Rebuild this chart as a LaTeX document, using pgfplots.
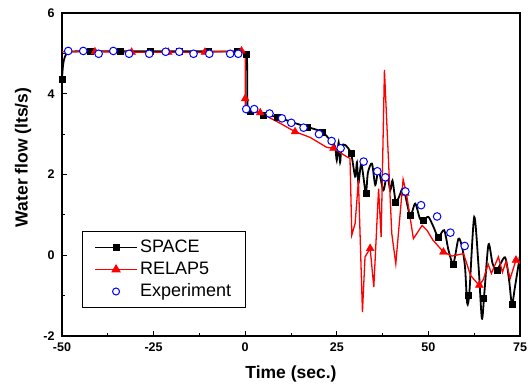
\documentclass[border=0pt]{standalone}
\usepackage{fontspec}
\setmainfont{Liberation Sans}
\usepackage{pgfplots}
\pgfplotsset{compat=1.18}
\begin{document}
\begin{tikzpicture}
\begin{axis}[
 width=458bp, height=323bp, scale only axis,
 xmin=-50, xmax=75, ymin=-2, ymax=6,
 xtick={-50,-25,0,25,50,75}, xticklabels={-50,-25,0,25,50,75},
 ytick={-2,0,2,4,6}, yticklabels={-2,0,2,4,6},
 minor x tick num=1, minor y tick num=1,
 tick align=inside, tick pos=left,
 major tick length=5bp, minor tick length=3bp,
 every tick/.style={black, line width=1bp},
 axis line style={line width=1.5bp},
 ticklabel style={font=\bfseries\fontsize{12.5bp}{14bp}\selectfont},
 xticklabel style={yshift=-3bp},
 yticklabel style={xshift=-4bp},
 xlabel={Time (sec.)}, ylabel={Water flow (lts/s)},
 label style={font=\bfseries\fontsize{17.5bp}{20bp}\selectfont},
 xlabel style={at={(axis description cs:0.5,-0.118)}, anchor=center},
 ylabel style={at={(axis description cs:-0.085,0.553)}, anchor=center},
 legend style={at={(axis description cs:0.044,0.087)}, anchor=south west,
   draw=black, line width=0.8bp, inner xsep=12bp, inner ysep=5bp,
   font=\fontsize{18bp}{21bp}\selectfont,
   nodes={text height=13bp, text depth=4bp, inner sep=2.5bp}, row sep=0bp},
 legend cell align=left,
 legend image code/.code={\draw[mark repeat=2,mark phase=2,#1] plot coordinates {(0bp,0bp) (21bp,0bp) (42bp,0bp)};},
]
% SPACE line
\addplot[black, line width=1.8bp, smooth, tension=0.5, forget plot] coordinates {
(-50,4.37) (-49.7,4.72) (-49.2,4.92) (-48.3,5.02) (-46,5.05) (-30,5.05) (-15,5.05) (-0.3,5.04) (0.5,4.98)};
\addplot[black, line width=1.8bp, forget plot] coordinates {(0.5,4.98) (0.6,3.7)};
\addplot[black, line width=1.8bp, smooth, tension=0.45, forget plot] coordinates {
(0.6,3.7) (1.5,3.6) (3,3.55) (5.0,3.47) (8.6,3.43) (12.3,3.31) (16.8,3.18) (20.9,3.06)
(23.2,2.85) (24.5,2.7) (25.0,2.35) (25.5,2.8) (25.9,2.3) (26.3,2.7) (27.3,2.73) (28.9,2.52)
(30.0,1.95) (30.5,2.3) (30.9,1.78) (31.7,2.27) (32.9,1.55) (33.5,2.05) (34.6,2.27) (35.5,1.74)
(36.4,2.11) (37.7,1.61) (38.7,1.99) (39.6,1.61) (40.2,1.85) (41.1,1.32) (42.0,1.45) (43.2,1.65)
(45.0,0.99) (46.4,1.28) (47.7,0.9) (48.7,0.87) (50.0,0.95) (51.4,0.70) (52.7,0.45) (54.3,0.62)
(55.5,0.12) (56.8,-0.21) (58.2,0.41) (59.2,0.2) (60.0,-0.3) (60.6,-1.2) (61.2,-0.9) (62.5,0.95)
(63.7,-0.29) (64.6,-1.57) (65.3,-0.9) (66.4,0.27) (67.5,-0.2) (68.7,-0.37) (70.9,-0.05)
(72.0,-0.6) (72.8,-1.22) (73.6,-0.8) (75,0.0)};
\addplot[only marks, mark=square*, mark size=3bp, black, forget plot] coordinates {
(-50,4.37) (-42.3,5.05) (-34,5.05) (-26,5.05) (-18,5.05) (-10,5.05) (-2.1,5.05) (0.2,4.98)
(1.5,3.57) (5,3.47) (8.6,3.43) (16.8,3.18) (20.9,3.06) (29,2.52) (32.9,1.53) (41,1.32)
(45,0.99) (48.6,0.87) (52.8,0.45) (56.8,-0.21) (60.9,-0.99) (65,-1.07) (68.7,-0.37) (73,-1.2)};
% RELAP5 line
\addplot[red, line width=1.3bp, forget plot] coordinates {
(-50,5.04) (-41,5.04) (-31,5.03) (-21,5.03) (-11,5.03) (-1,5.06) (-0.3,5.05) (0,4.95) (0,3.6)
(4.1,3.53) (9.5,3.27) (13.6,3.06) (17.7,2.92) (22.3,2.67) (24.1,2.65) (27.7,2.44) (28.6,2.40)
(29.1,0.50) (30.0,0.79) (30.9,1.86) (32.0,-1.41) (32.7,-0.04) (34.1,0.17) (35.1,-0.79)
(36.4,1.65) (37.1,0.45) (38.0,4.59) (40.0,0.54) (41.1,-0.21) (43.1,1.88) (44.0,1.53)
(45.9,0.41) (48.3,0.74) (49.6,0.62) (51.2,0.38) (54.1,0.08) (56.4,-0.02) (59.6,0.04)
(61.5,-0.5) (63.9,-0.75) (65,-0.6) (66.3,-0.22) (67.2,-0.45) (69.1,-0.04) (70.2,-0.42)
(71.2,-0.15) (72.3,-0.58) (73.9,-0.12) (75,-0.2)};
\addplot[only marks, mark=triangle*, mark size=4.5bp, red, forget plot] coordinates {
(-41,5.04) (-31,5.03) (-21,5.03) (-11,5.03) (-1,5.06) (0,3.88) (4.1,3.53) (13.6,3.06)
(24.1,2.65) (34.1,0.17) (43.7,1.53) (54.1,0.08) (63.9,-0.74) (73.9,-0.12)};
% Experiment
\addplot[only marks, mark=*, mark size=3.8bp, blue, mark options={fill=white, line width=1bp}, forget plot] coordinates {
(-48.3,5.06) (-44.2,5.06) (-40.0,4.99) (-36.0,5.06) (-31.7,4.99) (-26.2,4.99) (-21.7,5.04)
(-18.0,5.04) (-14.1,4.99) (-9.8,4.99) (-4.1,4.99) (-1.9,4.99) (0.27,3.62) (2.46,3.62)
(6.64,3.51) (10.03,3.39) (12.57,3.28) (15.93,3.16) (20.14,3.00) (23.58,2.83) (26.04,2.65)
(32.32,2.32) (36.07,2.08) (38.25,1.93) (43.72,1.58) (48.0,1.24) (52.38,0.96) (56.0,0.56) (59.9,0.23)};
\addlegendimage{black, line width=1bp, mark=square*, mark size=3bp}
\addlegendentry{SPACE}
\addlegendimage{red, line width=1bp, mark=triangle*, mark size=4.5bp}
\addlegendentry{RELAP5}
\addlegendimage{only marks, blue, mark=*, mark size=3.5bp, mark options={fill=white, line width=1bp}}
\addlegendentry{Experiment}
\end{axis}
\pgfresetboundingbox
\path ([shift={(-62bp,-49bp)}]current axis.south west) rectangle ([shift={(8bp,13bp)}]current axis.north east);
\end{tikzpicture}
\end{document}
